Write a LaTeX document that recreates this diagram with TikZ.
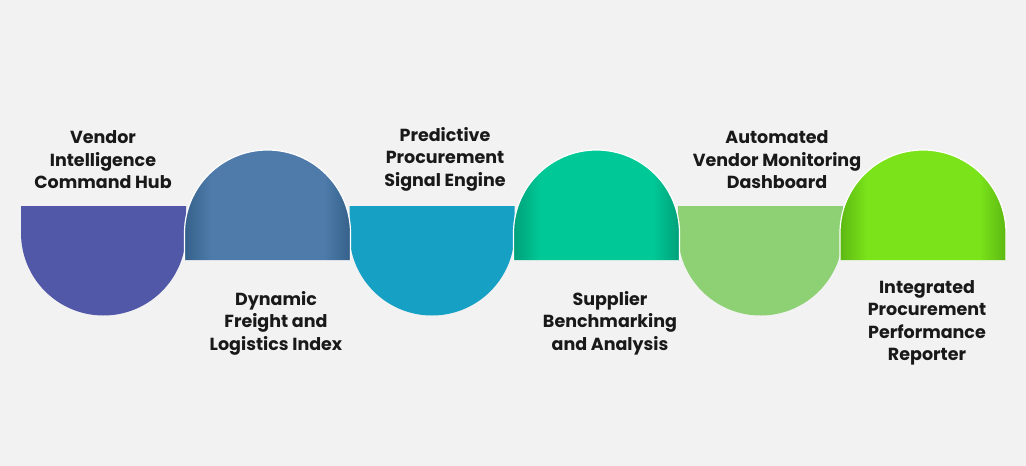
\documentclass[tikz,border=0pt]{standalone}
\usepackage{fontspec}
\setmainfont{Poppins}
\definecolor{bg}{HTML}{F2F2F2}
\definecolor{cA}{HTML}{5258A8}
\definecolor{cB}{HTML}{4F7BAB}
\definecolor{cBd}{HTML}{35608A}
\definecolor{cC}{HTML}{15A0C4}
\definecolor{cD}{HTML}{00C896}
\definecolor{cDd}{HTML}{00A07A}
\definecolor{cE}{HTML}{8DD174}
\definecolor{cF}{HTML}{7AE31A}
\definecolor{cFd}{HTML}{5CB812}
\pgfdeclarehorizontalshading{domeB}{100bp}{color(0bp)=(cBd);color(25bp)=(cBd);color(33bp)=(cB);color(67bp)=(cB);color(75bp)=(cBd);color(100bp)=(cBd)}
\pgfdeclarehorizontalshading{domeD}{100bp}{color(0bp)=(cDd);color(25bp)=(cDd);color(33bp)=(cD);color(67bp)=(cD);color(75bp)=(cDd);color(100bp)=(cDd)}
\pgfdeclarehorizontalshading{domeF}{100bp}{color(0bp)=(cFd);color(25bp)=(cFd);color(33bp)=(cF);color(67bp)=(cF);color(75bp)=(cFd);color(100bp)=(cFd)}
\begin{document}
\begin{tikzpicture}[x=1pt,y=-1pt,
  lbl/.style={font=\bfseries\fontsize{17.5}{22.5}\selectfont,align=center,text=black!90}]
\fill[bg] (0,0) rectangle (1026,466);
\useasboundingbox (0,0) rectangle (1026,466);
% bowls
\foreach \cx/\col in {103.5/cA,432/cC,760.5/cE}{
  \fill[\col] (\cx-82.5,206) -- (\cx+82.5,206) -- (\cx+82.5,233) arc[start angle=0,end angle=180,radius=82.5] -- cycle;
}
% domes
\foreach \cx/\sh in {267.5/domeB,596.5/domeD,923/domeF}{
  \shade[shading=\sh] (\cx-83,260) -- (\cx-83,233) arc[start angle=180,end angle=360,radius=83] -- (\cx+83,260) -- cycle;
  \draw[white,line width=1.2pt] (\cx-83,260) -- (\cx-83,233) arc[start angle=180,end angle=360,radius=83] -- (\cx+83,260);
}
\node[lbl] (t1) at (103,160) {Vendor\\Intelligence\\Command Hub};
\node[lbl] (t2) at (276,323) {Dynamic\\Freight and\\Logistics Index};
\node[lbl] (t3) at (445,159) {Predictive\\Procurement\\Signal Engine};
\node[lbl] (t4) at (610,323) {Supplier\\Benchmarking\\and Analysis};
\node[lbl] (t5) at (777,160) {Automated\\Vendor Monitoring\\Dashboard};
\node[lbl] (t6) at (927,323) {Integrated\\Procurement\\Performance\\Reporter};
\end{tikzpicture}
\end{document}
